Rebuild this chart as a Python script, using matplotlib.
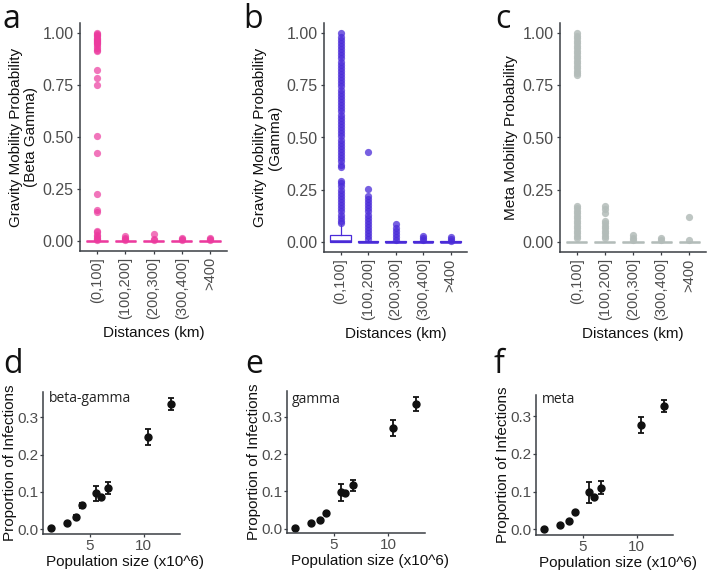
import matplotlib
matplotlib.use("Agg")
import matplotlib.pyplot as plt

plt.rcParams['font.family'] = ['Liberation Sans', 'DejaVu Sans']

# ---- top row: mobility probability by distance bin ----
distance_bins = ["(0,100]", "(100,200]", "(200,300]", "(300,400]", ">400"]

# box stats per bin: (q1, median, q3, whisker low, whisker high)
beta_gamma_boxes = [(0, 0, 0, 0, 0), (0, 0, 0, 0, 0), (0, 0, 0, 0, 0), (0, 0, 0, 0, 0), (0, 0, 0, 0, 0)]
beta_gamma_outliers = [
    [1.0, 0.995, 0.99, 0.985, 0.98, 0.975, 0.97, 0.965, 0.96, 0.955, 0.95, 0.94, 0.93,
     0.92, 0.915, 0.823, 0.786, 0.749, 0.503, 0.424, 0.227, 0.148, 0.138, 0.047, 0.042,
     0.025, 0.02, 0.015, 0.01, 0.005],
    [0.02, 0.015, 0.01, 0.005],
    [0.03, 0.01, 0.005],
    [0.012, 0.008, 0.004],
    [0.012, 0.008, 0.004],
]

gamma_boxes = [(0, 0.004, 0.032, 0, 0.08), (0, 0, 0.003, 0, 0.007), (0, 0, 0.002, 0, 0.004),
               (0, 0, 0.001, 0, 0.002), (0, 0, 0.001, 0, 0.002)]
gamma_outliers = [
    [1.0, 0.985, 0.97, 0.955, 0.94, 0.925, 0.91, 0.895, 0.88, 0.865, 0.85, 0.835, 0.82,
     0.805, 0.79, 0.775, 0.76, 0.745, 0.73, 0.715, 0.70, 0.685, 0.67, 0.655, 0.64, 0.625,
     0.61, 0.595, 0.58, 0.565, 0.55, 0.535, 0.52, 0.505, 0.49, 0.475, 0.46, 0.445, 0.43,
     0.415, 0.40, 0.385, 0.37, 0.36,
     0.293, 0.28, 0.265, 0.25, 0.235, 0.22, 0.205, 0.19, 0.175, 0.16, 0.145, 0.13, 0.115,
     0.10, 0.088],
    [0.43, 0.253, 0.22, 0.205, 0.19, 0.175, 0.16, 0.145, 0.13, 0.115, 0.10, 0.085, 0.07,
     0.055, 0.04, 0.025, 0.012],
    [0.084, 0.065, 0.05, 0.035, 0.022, 0.01],
    [0.027, 0.018, 0.01],
    [0.02, 0.012, 0.005],
]

meta_boxes = [(0, 0, 0, 0, 0), (0, 0, 0, 0, 0), (0, 0, 0, 0, 0), (0, 0, 0, 0, 0), (0, 0, 0, 0, 0)]
meta_outliers = [
    [1.0, 0.988, 0.976, 0.964, 0.952, 0.94, 0.928, 0.916, 0.904, 0.892, 0.88, 0.868, 0.856,
     0.844, 0.832, 0.82, 0.808, 0.80,
     0.172, 0.16, 0.148, 0.136, 0.124, 0.112, 0.10, 0.088, 0.076, 0.064, 0.052, 0.04,
     0.028, 0.016],
    [0.169, 0.156, 0.135, 0.10, 0.088, 0.076, 0.064, 0.052, 0.04, 0.028, 0.016],
    [0.03, 0.018, 0.008],
    [0.015, 0.008],
    [0.116, 0.006],
]

# ---- bottom row: proportion of infections vs population size ----
pop_size = [1.4, 2.88, 3.75, 4.27, 5.62, 6.06, 6.72, 10.43, 12.54]
prop_beta_gamma = [0.004, 0.016, 0.034, 0.064, 0.096, 0.086, 0.111, 0.248, 0.336]
err_beta_gamma = [0.002, 0.003, 0.004, 0.006, 0.021, 0.005, 0.016, 0.022, 0.016]
prop_gamma = [0.002, 0.015, 0.023, 0.041, 0.097, 0.096, 0.116, 0.270, 0.334]
err_gamma = [0.002, 0.003, 0.004, 0.004, 0.024, 0.006, 0.015, 0.021, 0.018]
prop_meta = [0.0, 0.011, 0.023, 0.045, 0.098, 0.087, 0.110, 0.277, 0.327]
err_meta = [0.002, 0.003, 0.003, 0.004, 0.027, 0.005, 0.017, 0.022, 0.016]

W, H = 708, 575
AXIS_COL = "#3a3e44"
TICK_COL = "#4d4d4d"
LABEL_COL = "#111111"

fig = plt.figure(figsize=(W / 100, H / 100), dpi=100)


def px_axes(left, right, top, bottom):
    # axes placed by pixel edges
    return fig.add_axes([left / W, 1 - bottom / H, (right - left) / W, (bottom - top) / H])


def style_axes(ax):
    for s in ["top", "right"]:
        ax.spines[s].set_visible(False)
    for s in ["left", "bottom"]:
        ax.spines[s].set_color(AXIS_COL)
        ax.spines[s].set_linewidth(1.1)
    ax.tick_params(colors=AXIS_COL, labelcolor=TICK_COL, length=2.5, width=0.9, labelsize=11.5, pad=2)


def box_panel(ax, boxes, outliers, color, alpha, ylabel):
    stats = []
    for (q1, med, q3, lo, hi), fl in zip(boxes, outliers):
        stats.append(dict(q1=q1, med=med, q3=q3, whislo=lo, whishi=hi, fliers=fl))
    ax.bxp(stats, positions=range(1, 6), widths=0.75, showcaps=False, patch_artist=True,
           boxprops=dict(facecolor="white", edgecolor=color, linewidth=0.9),
           medianprops=dict(color=color, linewidth=1.8),
           whiskerprops=dict(color=color, linewidth=0.9),
           flierprops=dict(marker="o", markerfacecolor=color, markeredgecolor="none",
                           markersize=5.2, alpha=alpha))
    style_axes(ax)
    ax.set_xlim(0.4, 5.6)
    ax.set_ylim(-0.05, 1.05)
    ax.set_yticks([0, 0.25, 0.5, 0.75, 1.0])
    ax.set_yticklabels(["0.00", "0.25", "0.50", "0.75", "1.00"])
    ax.set_xticks(range(1, 6))
    ax.set_xticklabels(distance_bins, rotation=90, va="top", ha="center", fontsize=10.5)
    ax.set_ylabel(ylabel, fontsize=11, color=LABEL_COL, labelpad=3, linespacing=1.1)
    ax.set_xlabel("Distances (km)", fontsize=11, color=LABEL_COL, labelpad=5)


def scatter_panel(ax, y, err, ylim, name, name_pos):
    ax.errorbar(pop_size, y, yerr=err, fmt="o", color="#111111", ms=5, capsize=2.2,
                elinewidth=1.3, capthick=1.3)
    style_axes(ax)
    ax.set_xlim(0.7, 13.35)
    ax.set_ylim(*ylim)
    ax.set_xticks([5, 10])
    ax.set_yticks([0, 0.1, 0.2, 0.3])
    ax.set_yticklabels(["0.0", "0.1", "0.2", "0.3"])
    ax.tick_params(labelsize=11, pad=1)
    ax.set_ylabel("Proportion of Infections", fontsize=11, color=LABEL_COL, labelpad=0)
    ax.set_xlabel("Population size (x10^6)", fontsize=11, color=LABEL_COL, labelpad=0)
    ax.xaxis.set_label_coords(0.6, -0.15)
    ax.text(name_pos[0], name_pos[1], name, transform=ax.transAxes, family="Open Sans",
            fontsize=10, color="#222222", va="center", ha="left")


ax_a = px_axes(80, 227, 23, 251)
box_panel(ax_a, beta_gamma_boxes, beta_gamma_outliers, "#ec3a9e", 0.7,
          "Gravity Mobility Probability\n(Beta Gamma)")
ax_b = px_axes(324, 467, 23, 252)
box_panel(ax_b, gamma_boxes, gamma_outliers, "#4a2bd8", 0.75,
          "Gravity Mobility Probability\n(Gamma)")
ax_c = px_axes(560, 706, 23, 252)
box_panel(ax_c, meta_boxes, meta_outliers, "#b3bcb9", 0.85, "Meta Mobility Probability")

ax_d = px_axes(43, 180, 392, 534)
scatter_panel(ax_d, prop_beta_gamma, err_beta_gamma, (-0.0126, 0.368), "beta-gamma", (0.044, 0.955))
ax_e = px_axes(287, 425, 391, 533)
scatter_panel(ax_e, prop_gamma, err_gamma, (-0.0116, 0.369), "gamma", (0.036, 0.94))
ax_f = px_axes(536, 673, 395, 535)
scatter_panel(ax_f, prop_meta, err_meta, (-0.015, 0.356), "meta", (0.044, 0.97))

# panel letters
for letter, x, y in [("a", 3, 28), ("b", 243, 28), ("c", 495, 28),
                     ("d", 3, 373), ("e", 245, 373), ("f", 493, 373)]:
    fig.text(x / W, 1 - y / H, letter, family="Open Sans", fontsize=23, color="#111111",
             ha="left", va="baseline")

fig.savefig("out.png", dpi=100)
